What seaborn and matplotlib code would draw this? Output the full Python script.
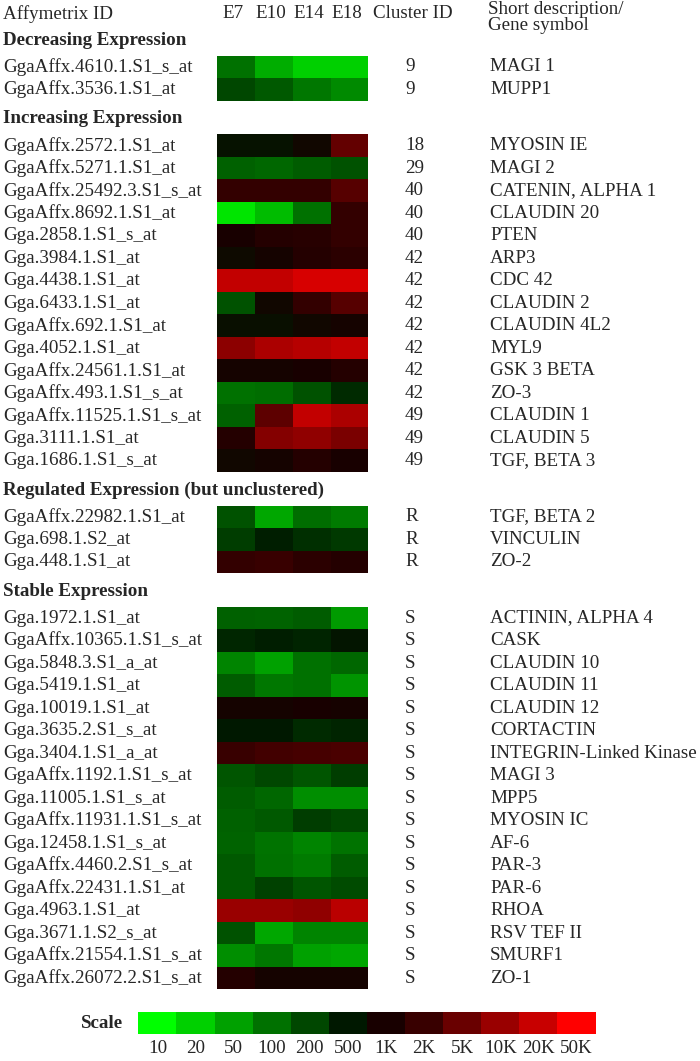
import numpy as np
import pandas as pd
import matplotlib
matplotlib.use("Agg")
import matplotlib.pyplot as plt
import seaborn as sns
from matplotlib.colors import LinearSegmentedColormap
from matplotlib import transforms

# ---------------- data ----------------
stages = ["E7", "E10", "E14", "E18"]

scale_values = [10, 20, 50, 100, 200, 500, 1000, 2000, 5000, 10000, 20000, 50000]
scale_labels = ["10", "20", "50", "100", "200", "500", "1K", "2K", "5K", "10K", "20K", "50K"]
scale_colors = ["#00FF00", "#00D000", "#00A000", "#007000", "#004800", "#001800",
                "#180000", "#380000", "#680000", "#980000", "#C80000", "#FF0000"]

section_titles = ["Decreasing Expression", "Increasing Expression",
                  "Regulated Expression (but unclustered)", "Stable Expression"]

dec_ids = ["GgaAffx.4610.1.S1_s_at", "GgaAffx.3536.1.S1_at"]
dec_clusters = ["9", "9"]
dec_genes = ["MAGI 1", "MUPP1"]
dec_values = [[100, 40, 20, 20],
              [200, 150, 90, 70]]

inc_ids = ["GgaAffx.2572.1.S1_at", "GgaAffx.5271.1.S1_at", "GgaAffx.25492.3.S1_s_at",
           "GgaAffx.8692.1.S1_at", "Gga.2858.1.S1_s_at", "Gga.3984.1.S1_at",
           "Gga.4438.1.S1_at", "Gga.6433.1.S1_at", "GgaAffx.692.1.S1_at",
           "Gga.4052.1.S1_at", "GgaAffx.24561.1.S1_at", "GgaAffx.493.1.S1_s_at",
           "GgaAffx.11525.1.S1_s_at", "Gga.3111.1.S1_at", "Gga.1686.1.S1_s_at"]
inc_clusters = ["18", "29", "40", "40", "40", "42", "42", "42", "42", "42", "42", "42",
                "49", "49", "49"]
inc_genes = ["MYOSIN IE", "MAGI 2", "CATENIN, ALPHA 1", "CLAUDIN 20", "PTEN", "ARP3",
             "CDC 42", "CLAUDIN 2", "CLAUDIN 4L2", "MYL9", "GSK 3 BETA", "ZO-3",
             "CLAUDIN 1", "CLAUDIN 5", "TGF, BETA 3"]
inc_values = [[600, 600, 800, 4500],
              [130, 120, 140, 170],
              [1800, 1800, 1800, 3500],
              [15, 30, 100, 1800],
              [1000, 1300, 1400, 1800],
              [750, 900, 1300, 1500],
              [18000, 18000, 25000, 25000],
              [170, 800, 1800, 3500],
              [650, 650, 800, 900],
              [8500, 13000, 15000, 18000],
              [900, 900, 1000, 1300],
              [100, 105, 170, 350],
              [130, 4000, 18000, 13000],
              [1300, 7500, 9000, 6500],
              [800, 900, 1300, 1000]]

reg_ids = ["GgaAffx.22982.1.S1_at", "Gga.698.1.S2_at", "Gga.448.1.S1_at"]
reg_clusters = ["R", "R", "R"]
reg_genes = ["TGF, BETA 2", "VINCULIN", "ZO-2"]
reg_values = [[170, 45, 105, 85],
              [250, 450, 330, 270],
              [1800, 2000, 1500, 1300]]

sta_ids = ["Gga.1972.1.S1_at", "GgaAffx.10365.1.S1_s_at", "Gga.5848.3.S1_a_at",
           "Gga.5419.1.S1_at", "Gga.10019.1.S1_at", "Gga.3635.2.S1_s_at",
           "Gga.3404.1.S1_a_at", "GgaAffx.1192.1.S1_s_at", "Gga.11005.1.S1_s_at",
           "GgaAffx.11931.1.S1_s_at", "Gga.12458.1.S1_s_at", "GgaAffx.4460.2.S1_s_at",
           "GgaAffx.22431.1.S1_at", "Gga.4963.1.S1_at", "Gga.3671.1.S2_s_at",
           "GgaAffx.21554.1.S1_s_at", "GgaAffx.26072.2.S1_s_at"]
sta_clusters = ["S"] * 17
sta_genes = ["ACTININ, ALPHA 4", "CASK", "CLAUDIN 10", "CLAUDIN 11", "CLAUDIN 12",
             "CORTACTIN", "INTEGRIN-Linked Kinase", "MAGI 3", "MPP5", "MYOSIN IC",
             "AF-6", "PAR-3", "PAR-6", "RHOA", "RSV TEF II", "SMURF1", "ZO-1"]
sta_values = [[130, 125, 140, 55],
              [380, 450, 400, 550],
              [75, 50, 100, 120],
              [140, 90, 100, 60],
              [900, 900, 1000, 950],
              [500, 500, 350, 400],
              [2000, 2400, 2600, 2800],
              [160, 200, 160, 250],
              [140, 120, 65, 65],
              [130, 150, 250, 200],
              [125, 95, 75, 95],
              [150, 100, 85, 140],
              [150, 230, 160, 190],
              [10000, 10000, 9000, 16000],
              [170, 45, 75, 75],
              [65, 90, 50, 45],
              [1300, 900, 900, 900]]

sections = [
    (section_titles[0], dec_ids, dec_clusters, dec_genes, dec_values),
    (section_titles[1], inc_ids, inc_clusters, inc_genes, inc_values),
    (section_titles[2], reg_ids, reg_clusters, reg_genes, reg_values),
    (section_titles[3], sta_ids, sta_clusters, sta_genes, sta_values),
]

# ---------------- style ----------------
sns.set_style("white")
plt.rcParams["font.family"] = ["Liberation Serif", "DejaVu Serif"]
FS = 13.7

W, H = 700, 1061
fig = plt.figure(figsize=(W / 100, H / 100), dpi=100)
fig.patch.set_facecolor("white")

cmap = LinearSegmentedColormap.from_list(
    "gbr", list(zip(np.linspace(0, 1, len(scale_colors)), scale_colors)))
log_ticks = np.log10(scale_values)


def to_level(v):
    return np.interp(np.log10(np.asarray(v, dtype=float)), log_ticks,
                     np.arange(len(scale_values)))


def fx(x):
    return x / W


def fy(y):
    return 1 - y / H


ROW = 22.5
GAP = 33.7
HM_LEFT, HM_W = 217.3, 151.0

top = 55.7
first_ax = None
for title, ids, clusters, genes, values in sections:
    n = len(ids)
    ax = fig.add_axes([fx(HM_LEFT), fy(top + n * ROW), HM_W / W, n * ROW / H])
    df = pd.DataFrame(to_level(values), index=ids, columns=stages)
    sns.heatmap(df, ax=ax, cmap=cmap, vmin=0, vmax=len(scale_values) - 1,
                cbar=False, xticklabels=False, yticklabels=False, linewidths=0)
    ax.set_xlabel("")
    ax.set_ylabel("")
    tr = transforms.blended_transform_factory(fig.transFigure, ax.transData)
    for i in range(n):
        ax.text(fx(3), i + 0.5, ids[i], transform=tr, ha="left", va="center",
                fontsize=FS)
        ax.text(fx(405), i + 0.5, clusters[i], transform=tr, ha="left",
                va="center", fontsize=FS)
        ax.text(fx(490), i + 0.5, genes[i], transform=tr, ha="left",
                va="center", fontsize=FS)
    fig.text(fx(3), fy(top - 15.5), title, ha="left", va="center",
             fontsize=FS, fontweight="bold")
    if first_ax is None:
        first_ax = ax
    top += n * ROW + GAP

# column headers
trc = transforms.blended_transform_factory(first_ax.transData, fig.transFigure)
for j, s in enumerate(stages):
    first_ax.text(j + 0.42, fy(14), s, transform=trc, ha="center", va="center",
                  fontsize=FS)
fig.text(fx(3), fy(14), "Affymetrix ID", ha="left", va="center", fontsize=FS)
fig.text(fx(373), fy(14), "Cluster ID", ha="left", va="center", fontsize=FS)
fig.text(fx(488), fy(10), "Short description/", ha="left", va="center", fontsize=FS)
fig.text(fx(488), fy(25), "Gene symbol", ha="left", va="center", fontsize=FS)

# scale bar
sc_left, sc_top, sc_h = 138.3, 1011.7, 22.5
sc_w = 38.1 * len(scale_values)
sax = fig.add_axes([fx(sc_left), fy(sc_top + sc_h), sc_w / W, sc_h / H])
sdf = pd.DataFrame([np.arange(len(scale_values))], columns=scale_labels)
sns.heatmap(sdf, ax=sax, cmap=cmap, vmin=0, vmax=len(scale_values) - 1,
            cbar=False, yticklabels=False, xticklabels=scale_labels, linewidths=0)
sax.tick_params(axis="x", length=0, pad=4, labelsize=FS, rotation=0)
sax.set_xlabel("")
sax.set_ylabel("")
fig.text(fx(81), fy(1023), "Scale", ha="left", va="center", fontsize=FS,
         fontweight="bold")

fig.savefig("out.png", dpi=100, facecolor="white")
